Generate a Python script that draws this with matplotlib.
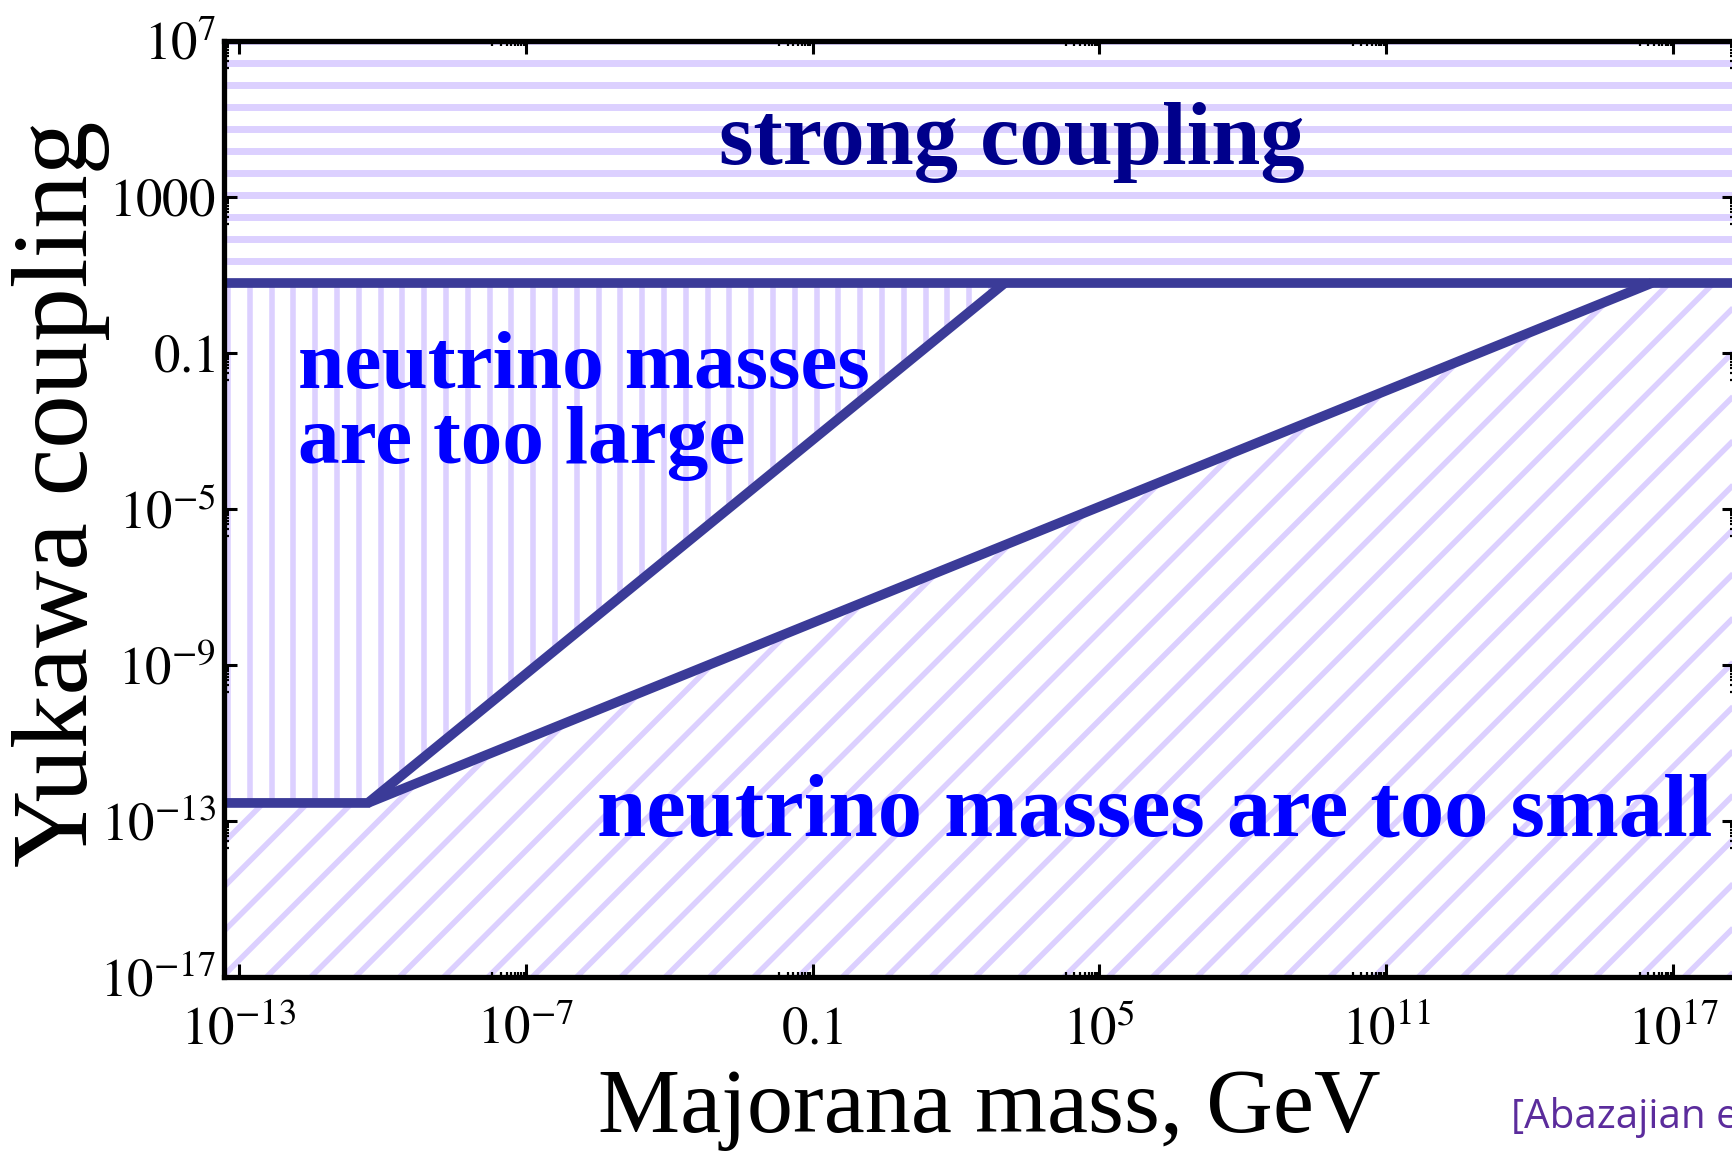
import matplotlib
matplotlib.use("Agg")
import matplotlib.pyplot as plt
import numpy as np
from matplotlib.collections import LineCollection
from matplotlib.patches import Polygon
from matplotlib.ticker import FixedLocator, NullFormatter

# boundary points of the allowed wedge (mass in GeV, Yukawa coupling)
knee_mass = 5e-11          # lightest neutrino mass scale
knee_coupling = 2.9e-13
strong_coupling = 6.2      # perturbativity edge
dirac_top_mass = 1.05e3    # upper edge reaches strong coupling
seesaw_top_mass = 3.6e16   # lower edge reaches strong coupling

xlim = (10**-13.31, 10**18.3)
ylim = (1e-17, 1e7)

x_ticks = [1e-13, 1e-7, 1e-1, 1e5, 1e11, 1e17]
x_labels = [r"$10^{-13}$", r"$10^{-7}$", r"$0.1$", r"$10^{5}$", r"$10^{11}$", r"$10^{17}$"]
y_ticks = [1e-17, 1e-13, 1e-9, 1e-5, 1e-1, 1e3, 1e7]
y_labels = [r"$10^{-17}$", r"$10^{-13}$", r"$10^{-9}$", r"$10^{-5}$", r"$0.1$", r"$1000$", r"$10^{7}$"]

line_col = "#3b3b98"
hatch_col = "#dcd0ff"

plt.rcParams["font.family"] = "Liberation Serif"
plt.rcParams["mathtext.fontset"] = "stix"

fig = plt.figure(figsize=(17.33, 11.54), dpi=100)
ax = fig.add_axes([0.1293, 0.1534, 0.8719, 0.8111])
ax.set_xscale("log")
ax.set_yscale("log")
ax.set_xlim(*xlim)
ax.set_ylim(*ylim)

x0, x1 = xlim
y0, y1 = ylim
regions = {
    "strong": [(x0, strong_coupling), (x1, strong_coupling), (x1, y1), (x0, y1)],
    "large": [(x0, knee_coupling), (knee_mass, knee_coupling),
              (dirac_top_mass, strong_coupling), (x0, strong_coupling)],
    "small": [(x0, y0), (x0, knee_coupling), (knee_mass, knee_coupling),
              (seesaw_top_mass, strong_coupling), (x1, strong_coupling), (x1, y0)],
}

W, H = ax.bbox.width, ax.bbox.height


def hatch(poly_pts, kind, step, lw, phase=0.0):
    patch = Polygon(poly_pts, closed=True, facecolor="none", edgecolor="none")
    ax.add_patch(patch)
    segs = []
    if kind == "-":
        for yp in np.arange(phase, H, step):
            segs.append([(0, yp / H), (1, yp / H)])
    elif kind == "|":
        for xp in np.arange(phase, W, step):
            segs.append([(xp / W, 0), (xp / W, 1)])
    else:
        for c in np.arange(phase - H, W, step):
            segs.append([(c / W, 0), ((c + H) / W, 1)])
    lc = LineCollection(segs, colors=hatch_col, linewidths=lw,
                        transform=ax.transAxes, zorder=1)
    lc.set_clip_path(patch)
    ax.add_collection(lc)


strong_px = ax.transData.transform((1.0, strong_coupling))[1] - ax.bbox.y0
hatch(regions["strong"], "-", 22, 5.0, phase=strong_px % 22)
hatch(regions["large"], "|", 21.8, 4.0, phase=4)
hatch(regions["small"], "/", 44.3, 4.0, phase=4)

# boundaries
lw = 7
ax.plot(xlim, [strong_coupling, strong_coupling], color=line_col, lw=lw,
        solid_capstyle="butt", zorder=3)
ax.plot([x0, knee_mass, dirac_top_mass], [knee_coupling, knee_coupling, strong_coupling],
        color=line_col, lw=lw, solid_capstyle="butt", solid_joinstyle="miter", zorder=3)
ax.plot([knee_mass, seesaw_top_mass], [knee_coupling, strong_coupling],
        color=line_col, lw=lw, solid_capstyle="butt", zorder=3)

# region labels
ax.text(1.5e3, 10**3.85, "strong coupling", ha="center", va="baseline",
        fontsize=63.6, fontweight="bold", color="#00008b", zorder=4)
ax.text(10**-11.77, 10**-1.90, "neutrino masses", ha="left", va="baseline",
        fontsize=60, fontweight="bold", color="#0000ff", zorder=4)
ax.text(10**-11.77, 10**-3.82, "are too large", ha="left", va="baseline",
        fontsize=60, fontweight="bold", color="#0000ff", zorder=4)
ax.text(10**-5.51, 10**-13.38, "neutrino masses are too small", ha="left", va="baseline",
        fontsize=63.8, fontweight="bold", color="#0000ff", zorder=4)

# ticks
ax.xaxis.set_major_locator(FixedLocator(x_ticks))
ax.set_xticklabels(x_labels)
ax.yaxis.set_major_locator(FixedLocator(y_ticks))
ax.set_yticklabels(y_labels)
x_minor = [k * t / 10 for t in x_ticks[1:] for k in range(2, 10)]
y_minor = [k * t / 10 for t in y_ticks[1:] for k in range(2, 10)]
ax.xaxis.set_minor_locator(FixedLocator(x_minor))
ax.yaxis.set_minor_locator(FixedLocator(y_minor))
ax.xaxis.set_minor_formatter(NullFormatter())
ax.yaxis.set_minor_formatter(NullFormatter())
ax.tick_params(which="major", direction="in", length=9.4, width=2.2,
               top=True, right=True, labelsize=38, colors="black")
ax.tick_params(which="minor", direction="in", length=3.5, width=1.6,
               top=True, right=True)
ax.tick_params(axis="x", which="major", pad=21)
ax.tick_params(axis="y", which="major", pad=6)
for sp in ax.spines.values():
    sp.set_linewidth(3.8)
    sp.set_zorder(5)

fig.text(61 / 1733, 1 - 494 / 1154, "Yukawa coupling", rotation=90,
         ha="center", va="center", fontsize=77)
fig.text(989 / 1733, 22 / 1154, "Majorana mass, GeV", ha="center", va="baseline",
         fontsize=66.5)
fig.text(1511 / 1733, 1 - 1128 / 1154, "[Abazajian et al.]", ha="left", va="baseline",
         fontsize=29, color="#5b2c9c", family="Open Sans")

fig.savefig("out.png", dpi=100)
